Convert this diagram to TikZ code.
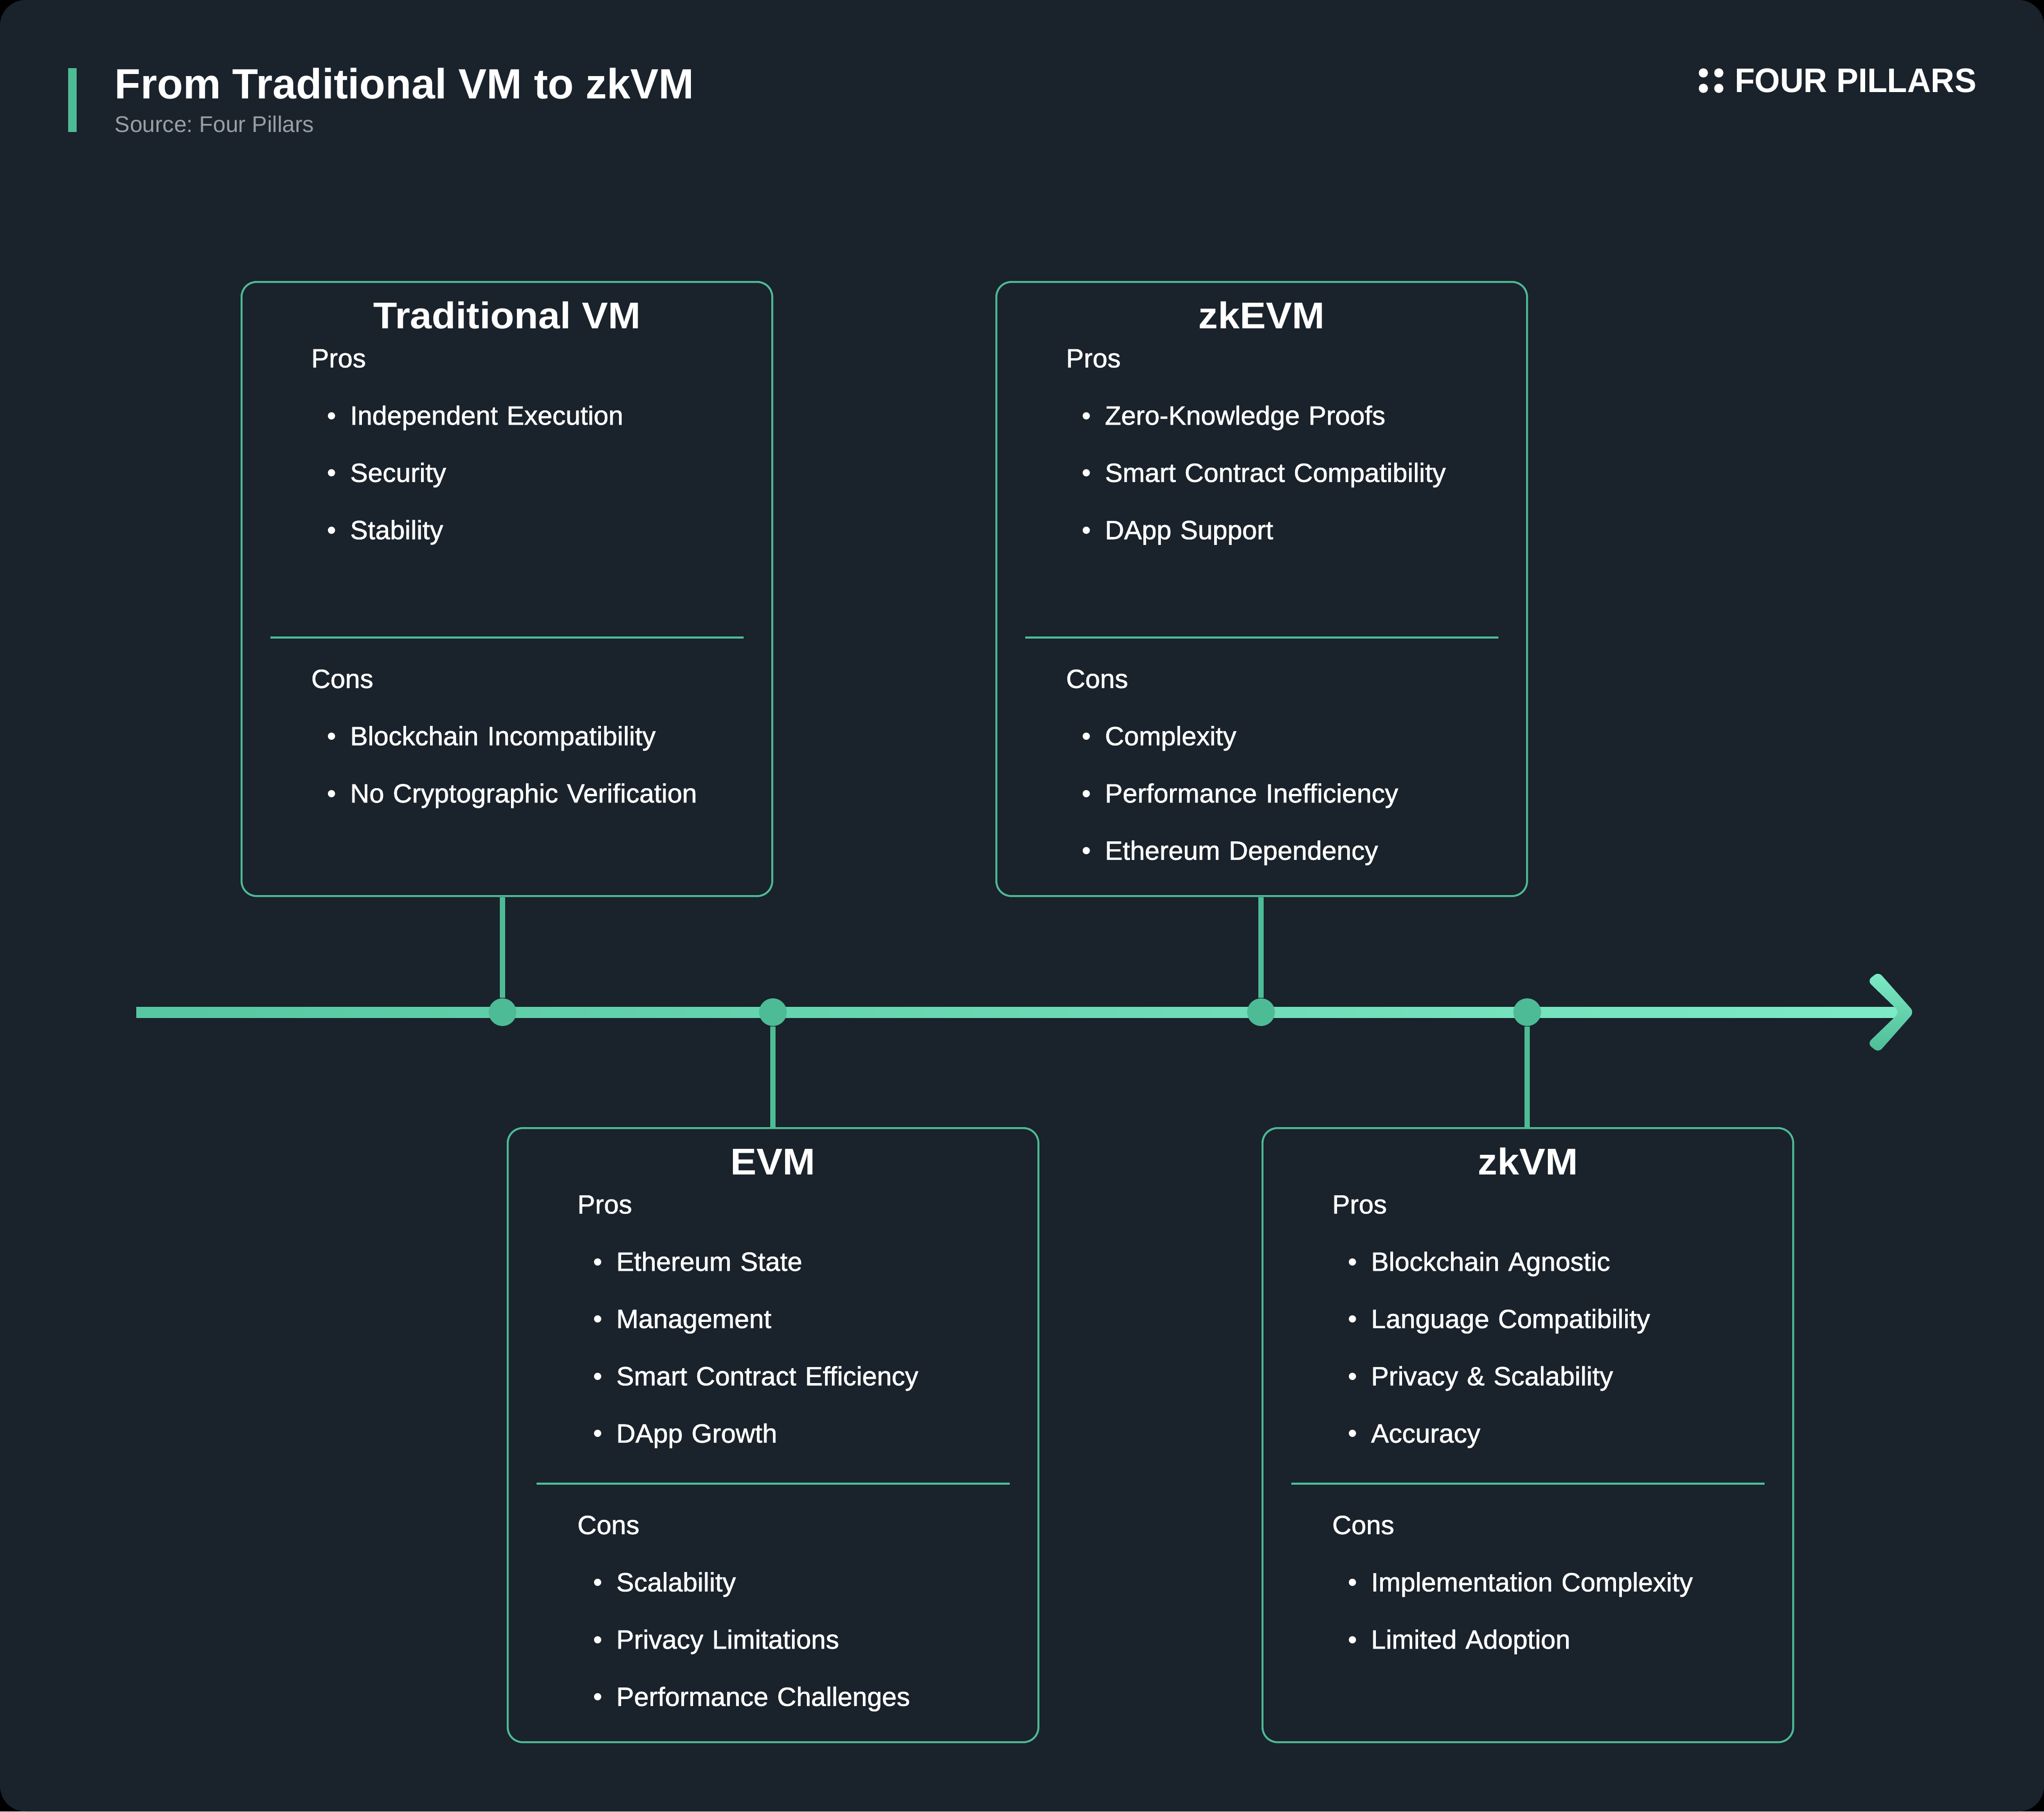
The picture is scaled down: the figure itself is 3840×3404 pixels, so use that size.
\documentclass[tikz,border=0pt]{standalone}
\usepackage{fontspec}
\setmainfont{Liberation Sans}
\newfontfamily\bodyfont[FakeBold=1.2,FakeStretch=1.006,WordSpace=0.75]{Liberation Sans}
\newfontfamily\titlefont[FakeStretch=1.05]{Liberation Sans}
\newfontfamily\brandfont[FakeStretch=0.96]{Liberation Sans}
\usepackage{xcolor}
\usetikzlibrary{arrows.meta,positioning}
\definecolor{vmbg}{HTML}{1A222B}
\definecolor{vmgreen}{HTML}{4DBB96}
\definecolor{axisleft}{HTML}{57C7A1}
\definecolor{axisright}{HTML}{7DEBC6}
\definecolor{vmgrey}{HTML}{9A9FA4}
\tikzset{
  vmbox/.style={draw=vmgreen, line width=0.9pt, rounded corners=7pt, fill=vmbg, anchor=north west, inner sep=0pt, minimum width=249.25pt, minimum height=288.5pt},
  vmtitle/.style={text=white, font=\titlefont\bfseries\fontsize{17.5pt}{17.5pt}\selectfont, inner sep=0pt, text height=12.5pt, text depth=0pt},
  vmhead/.style={text=white, font=\bodyfont\fontsize{12.4pt}{12.4pt}\selectfont, inner sep=0pt, text height=10pt, text depth=3pt, text width=190pt, align=left},
  vmitem/.style={vmhead, label={[text=white, font=\fontsize{12.5pt}{12.5pt}\selectfont, inner sep=0pt, yshift=-0.6pt, label distance=6pt]left:\textbullet}},
  vmrule/.style={draw=vmgreen, line width=0.8pt},
  vmstem/.style={draw=vmgreen, line width=2.5pt},
  vmdot/.style={circle, fill=vmgreen, inner sep=0pt, minimum size=13pt},
  logodot/.style={circle, fill=white, inner sep=0pt, minimum size=4.3pt},
  node distance=13.5pt
}
\begin{document}
\frenchspacing
\begin{tikzpicture}[x=0.25pt,y=-0.25pt]
\fill[black] (0,0) rectangle (3840,3404);
\fill[vmbg, rounded corners=12pt] (0,0) rectangle (3840,3404);
\useasboundingbox (0,0) rectangle (3840,3404);

\fill[vmgreen] (128,128) rectangle (144,248);
\node[text=white, font=\bfseries\fontsize{19.9pt}{19.9pt}\selectfont, anchor=north west, inner sep=0pt, text height=14.25pt, text depth=0pt] (heading) at (215,128) {From Traditional VM to zkVM};
\node[text=vmgrey, font=\fontsize{10.65pt}{10.65pt}\selectfont, anchor=north west, inner sep=0pt, text height=8pt, text depth=0pt, below right=7.3pt and 0pt of heading.south west] (source) {Source: Four Pillars};
\node[text=white, font=\brandfont\bfseries\fontsize{16pt}{16pt}\selectfont, anchor=east, inner sep=0pt] (brand) at (3714,151) {FOUR PILLARS};
\node[logodot] (l1) at (3200,137) {}; \node[logodot] (l2) at (3229,137) {};
\node[logodot] (l3) at (3200,166) {}; \node[logodot] (l4) at (3229,166) {};

\path[left color=axisleft, right color=axisright] (256,1892) rectangle (3575,1912);
\path[top color=axisright, middle color=axisright, bottom color=vmgreen, rounded corners=2.4pt] (3529,1826) -- (3596,1902) -- (3529,1978) -- (3508,1961) -- (3569,1902) -- (3508,1843) -- cycle;

\node[vmdot] (d1) at (944,1902) {};
\node[vmdot] (d2) at (1452,1902) {};
\node[vmdot] (d3) at (2369,1902) {};
\node[vmdot] (d4) at (2869,1902) {};

\node[vmbox] (tvm) at (452,528) {};
\node[vmbox] (zke) at (1870,528) {};
\node[vmbox] (evm) at (952,2118) {};
\node[vmbox] (zkv) at (2370,2118) {};

\draw[vmstem] (d1) -- (d1 |- tvm.south);
\draw[vmstem] (d3) -- (d3 |- zke.south);
\draw[vmstem] (d2) -- (d2 |- evm.north);
\draw[vmstem] (d4) -- (d4 |- zkv.north);

\node[vmtitle, below=9.7pt of tvm.north] (tvmt) {Traditional VM};
\node[vmhead, below right=30.4pt and 33pt of tvm.north west] (tvmp) {Pros};
\node[vmitem, below right=13.5pt and 18.25pt of tvmp.south west] (tvmp1) {Independent Execution};
\node[vmitem, below=of tvmp1] (tvmp2) {Security};
\node[vmitem, below=of tvmp2] (tvmp3) {Stability};
\draw[vmrule] ([xshift=14pt,yshift=-167.5pt]tvm.north west) -- ([xshift=-14pt,yshift=-167.5pt]tvm.north east);
\node[vmhead, below right=181pt and 33pt of tvm.north west] (tvmc) {Cons};
\node[vmitem, below right=13.5pt and 18.25pt of tvmc.south west] (tvmc1) {Blockchain Incompatibility};
\node[vmitem, below=of tvmc1] (tvmc2) {No Cryptographic Verification};

\node[vmtitle, below=9.7pt of zke.north] (zket) {zkEVM};
\node[vmhead, below right=30.4pt and 33pt of zke.north west] (zkep) {Pros};
\node[vmitem, below right=13.5pt and 18.25pt of zkep.south west] (zkep1) {Zero-Knowledge Proofs};
\node[vmitem, below=of zkep1] (zkep2) {Smart Contract Compatibility};
\node[vmitem, below=of zkep2] (zkep3) {DApp Support};
\draw[vmrule] ([xshift=14pt,yshift=-167.5pt]zke.north west) -- ([xshift=-14pt,yshift=-167.5pt]zke.north east);
\node[vmhead, below right=181pt and 33pt of zke.north west] (zkec) {Cons};
\node[vmitem, below right=13.5pt and 18.25pt of zkec.south west] (zkec1) {Complexity};
\node[vmitem, below=of zkec1] (zkec2) {Performance Inefficiency};
\node[vmitem, below=of zkec2] (zkec3) {Ethereum Dependency};

\node[vmtitle, below=9.7pt of evm.north] (evmt) {EVM};
\node[vmhead, below right=30.4pt and 33pt of evm.north west] (evmp) {Pros};
\node[vmitem, below right=13.5pt and 18.25pt of evmp.south west] (evmp1) {Ethereum State};
\node[vmitem, below=of evmp1] (evmp2) {Management};
\node[vmitem, below=of evmp2] (evmp3) {Smart Contract Efficiency};
\node[vmitem, below=of evmp3] (evmp4) {DApp Growth};
\draw[vmrule] ([xshift=14pt,yshift=-167.5pt]evm.north west) -- ([xshift=-14pt,yshift=-167.5pt]evm.north east);
\node[vmhead, below right=181pt and 33pt of evm.north west] (evmc) {Cons};
\node[vmitem, below right=13.5pt and 18.25pt of evmc.south west] (evmc1) {Scalability};
\node[vmitem, below=of evmc1] (evmc2) {Privacy Limitations};
\node[vmitem, below=of evmc2] (evmc3) {Performance Challenges};

\node[vmtitle, below=9.7pt of zkv.north] (zkvt) {zkVM};
\node[vmhead, below right=30.4pt and 33pt of zkv.north west] (zkvp) {Pros};
\node[vmitem, below right=13.5pt and 18.25pt of zkvp.south west] (zkvp1) {Blockchain Agnostic};
\node[vmitem, below=of zkvp1] (zkvp2) {Language Compatibility};
\node[vmitem, below=of zkvp2] (zkvp3) {Privacy \& Scalability};
\node[vmitem, below=of zkvp3] (zkvp4) {Accuracy};
\draw[vmrule] ([xshift=14pt,yshift=-167.5pt]zkv.north west) -- ([xshift=-14pt,yshift=-167.5pt]zkv.north east);
\node[vmhead, below right=181pt and 33pt of zkv.north west] (zkvc) {Cons};
\node[vmitem, below right=13.5pt and 18.25pt of zkvc.south west] (zkvc1) {Implementation Complexity};
\node[vmitem, below=of zkvc1] (zkvc2) {Limited Adoption};
\end{tikzpicture}
\end{document}
